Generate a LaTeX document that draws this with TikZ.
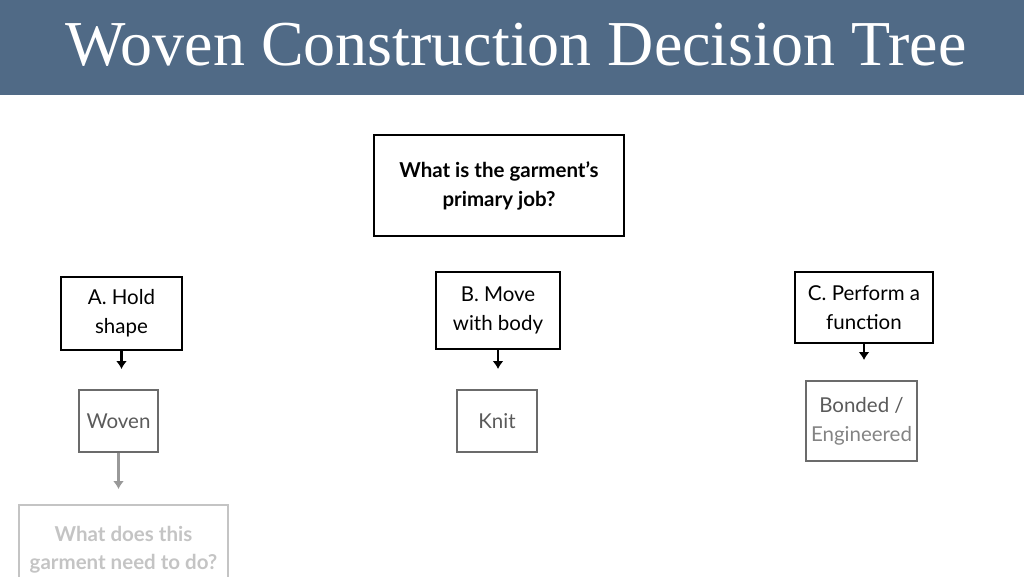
\documentclass[tikz,border=0pt]{standalone}
\usepackage{fontspec}
\setmainfont{Lato}
\newfontfamily\titlefont{Liberation Serif}
\usetikzlibrary{positioning}
\usetikzlibrary{arrows.meta}
\definecolor{banner}{HTML}{506A86}
\definecolor{midgray}{HTML}{5A5A5A}
\definecolor{fadegray}{HTML}{C4C4C4}

\begin{document}
\begin{tikzpicture}
          [x=1pt, y=-1pt,
           box/.style={draw, line width=2pt, align=center, inner sep=0pt,
                       font=\fontsize{20.5}{29}\selectfont},
           result/.style={box, draw=midgray!90, text=midgray},
           faded/.style={box, draw=fadegray, text=fadegray, font=\bfseries\fontsize{20.5}{28}\selectfont},
           arr/.style={line width=2.4pt, -{Latex[length=8pt, width=11pt]}, shorten >=20pt}]
          \useasboundingbox (0,0) rectangle (1024,576);
          \clip (0,0) rectangle (1024,576);

          % banner
          \fill[banner] (0,0) rectangle (1024,95);
          \node (title) [text=white, font=\titlefont\fontsize{64}{64}\selectfont] at (516,45) {Woven Construction Decision Tree};

          % question and branches
          \node (q) [box, minimum width=250pt, minimum height=101pt, font=\bfseries\fontsize{20.5}{29}\selectfont] at (499,185.5) {What is the garment’s\\primary job?};
          \node (a) [box, minimum width=121pt, minimum height=73pt] at (121.5,313.5) {A. Hold\\shape};
          \node (b) [box, minimum width=124pt, minimum height=77pt] at (498,310.5) {B. Move\\with body};
          \node (c) [box, minimum width=138pt, minimum height=71pt] at (864,307.5) {C. Perform a\\function};

          % answers
          \node (woven) [result, minimum width=79pt, minimum height=62pt] at (118.5,421) {Woven};
          \node (knit) [result, minimum width=80pt, minimum height=62pt] at (497,421) {Knit};
          \node (bonded) [result, minimum width=111pt, minimum height=80pt] at (861.5,421) {Bonded /\\\textcolor{midgray!75}{Engineered}};
          \node (next) [faded, minimum width=209pt, minimum height=90pt] at (123.5,550) {What does this\\garment need to do?};

          \draw[arr] (a.south) -- (a.south |- woven.north);
          \draw[arr] (b.south) -- (b.south |- knit.north);
          \draw[arr] (c.south) -- (c.south |- bonded.north);
          \draw[arr, draw=gray!80, shorten >=15pt] (woven.south) -- (woven.south |- next.north);

        \end{tikzpicture}
\end{document}
